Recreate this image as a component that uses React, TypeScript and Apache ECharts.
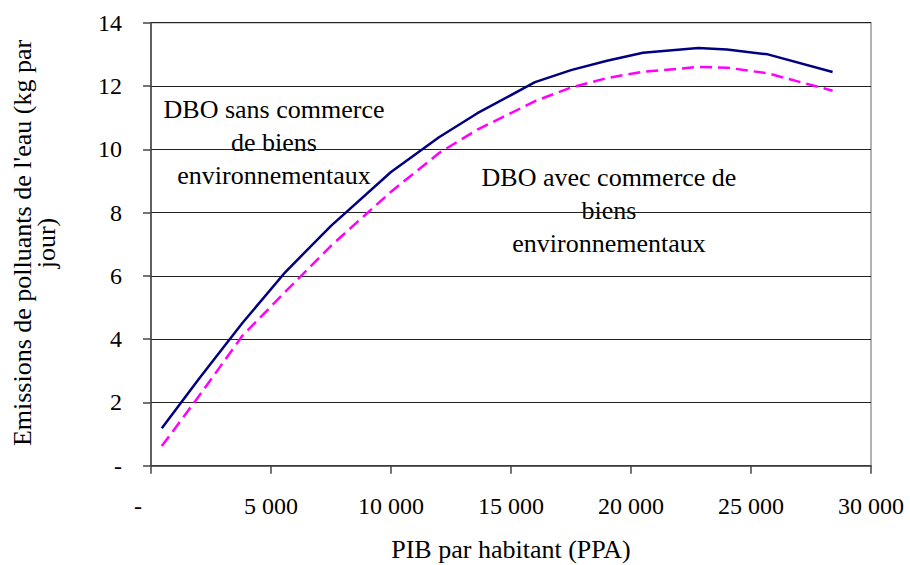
import React, { useEffect, useRef } from "react";
import * as echarts from "echarts";

const gdp = [450, 2000, 3800, 5600, 7500, 10000, 12000, 13600, 16000, 17500, 19000, 20500, 22800, 24000, 25700, 28400];
const sansCommerce = [1.18, 2.75, 4.5, 6.12, 7.58, 9.28, 10.38, 11.14, 12.12, 12.5, 12.8, 13.05, 13.2, 13.15, 13.0, 12.44];
const avecCommerce = [0.62, 2.2, 4.1, 5.5, 6.95, 8.66, 9.88, 10.62, 11.52, 11.95, 12.25, 12.45, 12.6, 12.58, 12.4, 11.85];
const labelSans = "DBO sans commerce\nde biens\nenvironnementaux";
const labelAvec = "DBO avec commerce de\nbiens\nenvironnementaux";
const xTitle = "PIB par habitant (PPA)";
const yTitle = "Emissions de polluants de l'eau (kg par\njour)";

const FONT = "Liberation Serif, Times New Roman, serif";

function fmt(v: number): string {
  if (v === 0) return "-";
  const s = String(Math.round(v));
  return s.replace(/\B(?=(\d{3})+(?!\d))/g, " ");
}

export default function App() {
  const ref = useRef<HTMLDivElement>(null);
  useEffect(() => {
    if (!ref.current) return;
    const chart = echarts.init(ref.current, null, { renderer: "svg" });
    chart.setOption({
      animation: false,
      backgroundColor: "#fff",
      grid: { left: 151, right: 39, top: 22.7, bottom: 99.3, show: true, borderColor: "#999", borderWidth: 1.5 },
      xAxis: {
        type: "value",
        min: 0,
        max: 30000,
        interval: 5000,
        axisLine: { show: true, lineStyle: { color: "#444", width: 1.5 } },
        axisTick: { show: true, inside: false, length: 8, lineStyle: { color: "#444", width: 1.5 } },
        splitLine: { show: false },
        axisLabel: {
          margin: 28,
          fontFamily: FONT,
          fontSize: 24,
          color: "#000",
          formatter: (v: number) => (v === 0 ? "{z|-}" : fmt(v)),
          rich: { z: { fontFamily: FONT, fontSize: 24, color: "#000", padding: [0, 26, 0, 0] } },
        },
      },
      yAxis: {
        type: "value",
        min: 0,
        max: 14,
        interval: 2,
        axisLine: { show: true, lineStyle: { color: "#444", width: 1.5 } },
        axisTick: { show: true, inside: false, length: 8, lineStyle: { color: "#444", width: 1.5 } },
        splitLine: { show: true, lineStyle: { color: "#222", width: 1 } },
        axisLabel: {
          margin: 29,
          fontFamily: FONT,
          fontSize: 24,
          color: "#000",
          formatter: (v: number) => fmt(v),
        },
      },
      series: [
        {
          type: "line",
          name: "DBO sans commerce de biens environnementaux",
          data: gdp.map((x, i) => [x, sansCommerce[i]]),
          showSymbol: false,
          symbol: "none",
          smooth: false,
          lineStyle: { color: "#000080", width: 2.5 },
        },
        {
          type: "line",
          name: "DBO avec commerce de biens environnementaux",
          data: gdp.map((x, i) => [x, avecCommerce[i]]),
          showSymbol: false,
          symbol: "none",
          smooth: false,
          lineStyle: { color: "#FF00FF", width: 2.5, type: [12, 6] },
        },
      ],
      graphic: [
        {
          type: "text",
          x: 274,
          y: 142.5,
          style: {
            text: labelSans,
            fontFamily: FONT,
            fontSize: 26,
            lineHeight: 33,
            fill: "#000",
            align: "center",
            verticalAlign: "middle",
          },
        },
        {
          type: "text",
          x: 609,
          y: 210,
          style: {
            text: labelAvec,
            fontFamily: FONT,
            fontSize: 26,
            lineHeight: 33,
            fill: "#000",
            align: "center",
            verticalAlign: "middle",
          },
        },
        {
          type: "text",
          x: 511,
          y: 549,
          style: {
            text: xTitle,
            fontFamily: FONT,
            fontSize: 26,
            fill: "#000",
            align: "center",
            verticalAlign: "middle",
          },
        },
        {
          type: "text",
          x: 34,
          y: 243,
          rotation: Math.PI / 2,
          style: {
            text: yTitle,
            fontFamily: FONT,
            fontSize: 26,
            lineHeight: 24,
            fill: "#000",
            align: "center",
            verticalAlign: "middle",
          },
        },
      ],
    });
    return () => chart.dispose();
  }, []);
  return (
    <div
      ref={ref}
      style={{ position: "fixed", left: 0, top: 0, width: 910, height: 565, background: "#fff" }}
    />
  );
}
